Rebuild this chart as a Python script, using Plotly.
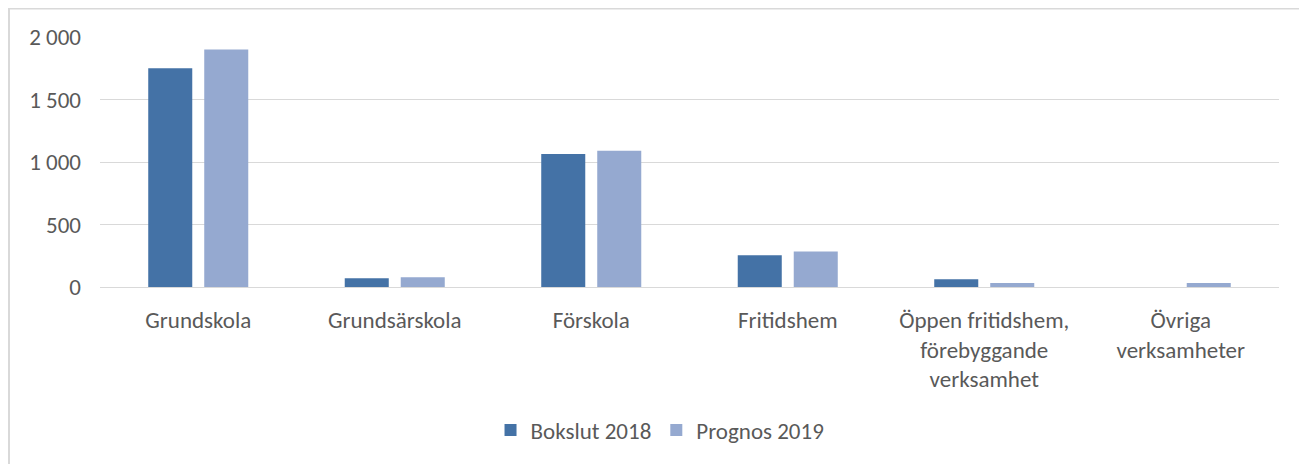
import plotly.graph_objects as go

categories = ["Grundskola", "Grundsärskola", "Förskola", "Fritidshem",
              "Öppen fritidshem,<br>förebyggande<br>verksamhet", "Övriga<br>verksamheter"]
bokslut_2018 = [1750, 70, 1065, 255, 62, 0]
prognos_2019 = [1900, 78, 1090, 285, 32, 32]
y_ticks = [0, 500, 1000, 1500, 2000]
y_labels = ["0", "500", "1 000", "1 500", "2 000"]

font_family = "Carlito, Calibri, Lato, sans-serif"
txt = "#595959"
fs = 23

fig = go.Figure()
fig.add_trace(go.Bar(name="Bokslut 2018", x=categories, y=bokslut_2018,
                     marker=dict(color="#4472a6", line=dict(width=0))))
fig.add_trace(go.Bar(name="Prognos 2019", x=categories, y=prognos_2019,
                     marker=dict(color="#95a9d0", line=dict(width=0))))

fig.update_layout(
    width=1299, height=456,
    margin=dict(l=92, r=28, t=29, b=177),
    paper_bgcolor="white", plot_bgcolor="white",
    barmode="group", bargap=0.43, bargroupgap=0.214,
    font=dict(family=font_family, size=fs, color=txt),
    showlegend=True,
    legend=dict(orientation="h", x=0.475, xanchor="center", y=-0.572, yanchor="middle",
                font=dict(size=fs, color=txt), itemwidth=30, traceorder="normal"),
    xaxis=dict(showgrid=False, showline=True, linecolor="#d9d9d9", linewidth=1,
               ticks="", ticklabelstandoff=12, tickfont=dict(size=fs, color=txt)),
    yaxis=dict(range=[0, 2000], tickvals=y_ticks, ticktext=y_labels,
               showgrid=True, gridcolor="#d9d9d9", gridwidth=1, zeroline=False,
               showline=False, ticks="", ticklabelstandoff=18,
               tickfont=dict(size=fs, color=txt)),
    shapes=[
        dict(type="line", xref="paper", yref="paper", x0=-0.078, x1=1.1, y0=1.114, y1=1.114,
             line=dict(color="#d9d9d9", width=2)),
        dict(type="line", xref="paper", yref="paper", x0=-0.0772, x1=-0.0772, y0=1.12, y1=-0.8,
             line=dict(color="#d9d9d9", width=2)),
    ],
)

fig.write_html("out.html")
